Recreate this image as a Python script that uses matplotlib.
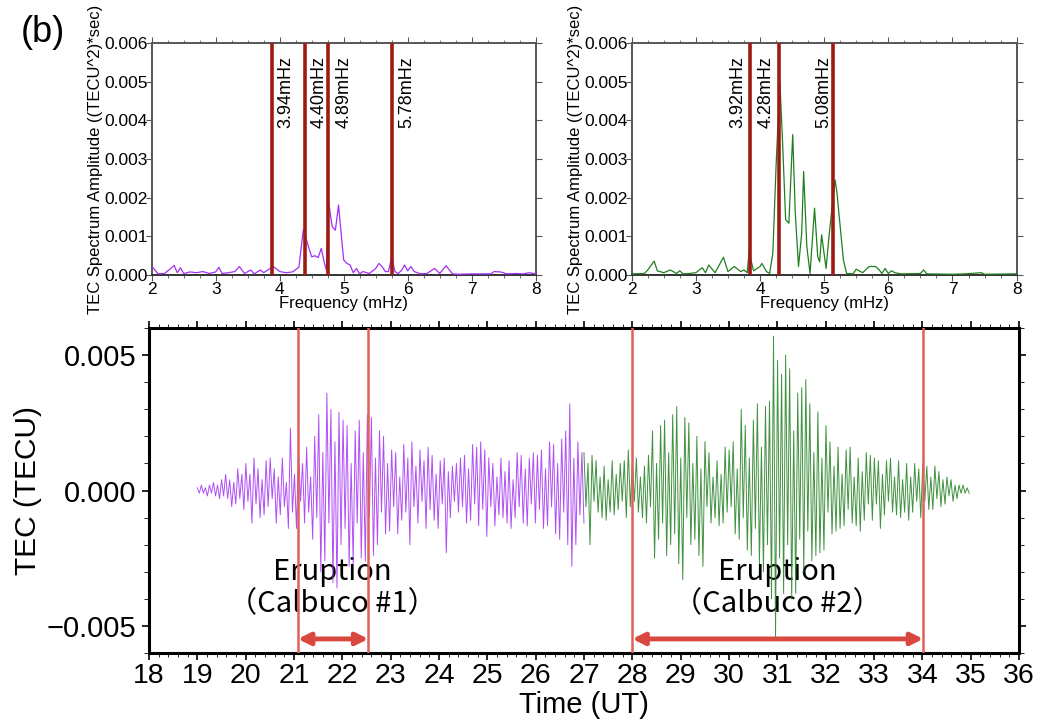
import numpy as np
import matplotlib
matplotlib.use("Agg")
from matplotlib import pyplot as plt
from matplotlib.ticker import MultipleLocator, FormatStrFormatter, FuncFormatter

plt.rcParams['font.family'] = ['Liberation Sans', 'DejaVu Sans']

# spectrum, event 1 (purple)
freq1 = [2.0, 2.1, 2.2, 2.3, 2.35, 2.4, 2.45, 2.5, 2.6, 2.7, 2.8, 2.9, 3.0, 3.05, 3.1, 3.2,
         3.3, 3.37, 3.45, 3.55, 3.6, 3.7, 3.75, 3.85, 3.9, 4.0, 4.1, 4.2, 4.3, 4.37, 4.45,
         4.5, 4.55, 4.6, 4.65, 4.7, 4.73, 4.76, 4.82, 4.87, 4.92, 4.97, 5.0, 5.05, 5.1,
         5.15, 5.2, 5.25, 5.3, 5.4, 5.5, 5.55, 5.6, 5.65, 5.7, 5.75, 5.8, 5.85, 5.9, 5.95,
         6.0, 6.05, 6.1, 6.2, 6.3, 6.42, 6.5, 6.6, 6.7, 6.8, 7.0, 7.2, 7.3, 7.35, 7.45,
         7.55, 7.7, 7.8, 7.9, 8.0]
amp1 = [0.23, 0.03, 0.04, 0.17, 0.25, 0.06, 0.19, 0.04, 0.08, 0.06, 0.09, 0.04, 0.08, 0.20,
        0.04, 0.06, 0.09, 0.22, 0.04, 0.13, 0.03, 0.13, 0.06, 0.17, 0.22, 0.09, 0.06, 0.08,
        0.20, 1.18, 0.73, 0.47, 0.50, 0.45, 0.69, 0.30, 0.13, 1.94, 1.25, 1.16, 1.81, 0.90,
        0.39, 0.30, 0.26, 0.06, 0.17, 0.03, 0.09, 0.04, 0.17, 0.30, 0.22, 0.09, 0.09, 0.47,
        0.09, 0.04, 0.11, 0.26, 0.11, 0.22, 0.09, 0.03, 0.04, 0.17, 0.04, 0.24, 0.03, 0.02,
        0.03, 0.03, 0.03, 0.09, 0.08, 0.03, 0.04, 0.03, 0.06, 0.03]

# spectrum, event 2 (green)
freq2 = [2.0, 2.2, 2.25, 2.35, 2.4, 2.5, 2.6, 2.7, 2.75, 2.8, 2.9, 3.0, 3.1, 3.15, 3.2, 3.3,
         3.43, 3.5, 3.6, 3.7, 3.75, 3.8, 3.83, 3.9, 4.0, 4.03, 4.1, 4.15, 4.2, 4.25, 4.31,
         4.35, 4.4, 4.45, 4.51, 4.55, 4.6, 4.65, 4.68, 4.73, 4.78, 4.85, 4.9, 4.93, 4.96,
         5.03, 5.08, 5.17, 5.2, 5.25, 5.3, 5.35, 5.45, 5.5, 5.6, 5.7, 5.8, 5.85, 5.9, 5.95,
         6.0, 6.05, 6.1, 6.2, 6.5, 6.55, 6.6, 7.0, 7.2, 7.45, 7.5, 8.0]
amp2 = [0.03, 0.04, 0.13, 0.36, 0.11, 0.06, 0.13, 0.04, 0.11, 0.03, 0.04, 0.06, 0.19, 0.06,
        0.26, 0.06, 0.46, 0.09, 0.22, 0.09, 0.13, 0.06, 0.58, 0.11, 0.22, 0.30, 0.09, 0.04,
        0.56, 2.80, 5.00, 3.50, 1.43, 1.34, 3.63, 1.60, 0.22, 1.08, 2.68, 0.73, 0.04, 1.73,
        0.47, 0.34, 1.04, 0.17, 1.08, 2.46, 2.12, 1.25, 0.39, 0.04, 0.03, 0.15, 0.06, 0.22,
        0.22, 0.15, 0.04, 0.17, 0.04, 0.11, 0.06, 0.03, 0.04, 0.13, 0.03, 0.02, 0.03, 0.06,
        0.02, 0.03]

lines1 = [3.88, 4.39, 4.76, 5.75]
labels1 = ["3.94mHz", "4.40mHz", "4.89mHz", "5.78mHz"]
labx1 = [4.10, 4.61, 5.00, 5.99]
lines2 = [3.84, 4.30, 5.13]
labels2 = ["3.92mHz", "4.28mHz", "5.08mHz"]
labx2 = [3.66, 4.10, 4.99]

# TEC time series, turning points in 1e-4 TECU (24 per hour)
tec1 = [1, -1, 2, -1, 1, -2, 2, -1, 3, -2, 2, -3, 4, -2, 6, -3, 4, -6, 3, -5, 8, -3, 6, -7,
        10, -4, 6, -12, 12, -5, 8, -10, 4, -9, 11, -6, 12, -3, 8, -12, 5, -9, 12, -6, 3, -14, 23, -8,
        6, -14, 15, -4, 10, -12, 16, -8, 5, -18, 20, -10, 28, -30, 14, -26, 36, -12, 30, -34, 18, -36, 29, -20,
        26, -14, 24, -28, 10, -27, 22, -12, 26, -25, 14, -26, 28, -10, 27, -24, 12, -20, 22, -8, 20, -16, 10, -15,
        15, -6, 14, -16, 5, -11, 17, -8, 12, -20, 18, -6, 9, -12, 15, -4, 11, -14, 16, -7, 13, -11, 6, -14,
        11, -5, 12, -23, 7, -10, 9, -4, 10, -8, 12, -6, 13, -12, 8, -11, 17, -5, 16, -13, 18, -7, 15, -17,
        12, -6, 10, -13, 5, -9, 12, -10, 7, -12, 11, -14, 4, -10, 14, -6, 13, -12, 8, -13, 12, -5, 14, -12,
        13, -7, 15, -14, 8, -13, 18, -6, 17, -16, 10, -18, 19, -8, 22, -20, 32, -28, 12, -20, 18, -9, 14, -12]
tec2 = [14, -6, 10, -20, 13, -4, 11, -8, 5, -10, 9, -11, 4, -8, 11, -9, 6, -7, 10, -4, 11, -10, 15, -6,
        10, -4, 12, -8, 5, -10, 9, -12, 13, -6, 22, -25, 10, -18, 24, -12, 26, -24, 14, -20, 28, -16, 31, -27,
        12, -33, 27, -10, 25, -20, 10, -18, 20, -24, 8, -28, 18, -6, 14, -12, 5, -10, 11, -13, 6, -12, 16, -8,
        15, -6, 18, -16, 8, -18, 30, -10, 24, -22, 12, -24, 26, -14, 32, -27, 16, -30, 31, -20, 33, -40, 57, -54,
        48, -25, 43, -38, 50, -20, 45, -40, 22, -38, 36, -18, 38, -30, 41, -15, 32, -26, 14, -24, 29, -23, 12, -22,
        24, -8, 18, -16, 9, -15, 16, -14, 6, -13, 15, -7, 16, -12, 5, -13, 12, -15, 7, -11, 14, -5, 13, -11,
        12, -5, 11, -14, 6, -9, 11, -4, 12, -8, 5, -9, 11, -10, 4, -8, 10, -11, 5, -8, 10, -4, 8, -10,
        10, -4, 9, -7, 5, -7, 9, -3, 7, -6, 4, -5, 5, -2, 4, -4, 2, -3, 2, -1, 2, -1, 1, -1]

eruptions = [(21.08, 22.54, 21.8, "#1"), (28.0, 34.02, 31.0, "#2")]

PURPLE = "#a330f5"
GREEN = "#1f7f1f"
DARKRED = "#9e1b14"
LIGHTRED = "#e0605a"

fig = plt.figure(figsize=(10.41, 7.23), dpi=100)


def spectrum_panel(rect, f, a, color, lines, labels, labx):
    ax = fig.add_axes(rect)
    ax.plot(f, np.array(a) * 1e-3, color=color, lw=0.9, zorder=3)
    for x in lines:
        ax.axvline(x, color=DARKRED, lw=2.6, zorder=4)
    for x, s in zip(labx, labels):
        ax.text(x, 0.00567, s, rotation=90, ha="center", va="top", fontsize=13, zorder=5)
    ax.set_xlim(2, 8)
    ax.set_ylim(0, 0.006)
    ax.xaxis.set_major_locator(MultipleLocator(1))
    ax.xaxis.set_minor_locator(MultipleLocator(0.25))
    ax.yaxis.set_major_locator(MultipleLocator(0.001))
    ax.yaxis.set_major_formatter(FormatStrFormatter("%.3f"))
    ax.tick_params(axis="both", which="both", direction="out", top=True, right=True,
                   labelsize=12.5, color="#555555")
    ax.tick_params(axis="x", which="major", length=4, pad=1)
    ax.tick_params(axis="x", which="minor", length=2)
    ax.tick_params(axis="y", which="major", length=4, pad=-1)
    for sp in ax.spines.values():
        sp.set_color("#555555")
        sp.set_linewidth(1.4)
    ax.spines["bottom"].set_color("#333333")
    ax.set_xlabel("Frequency (mHz)", fontsize=12, labelpad=-1)
    ax.set_ylabel("TEC Spectrum Amplitude ((TECU^2)*sec)", fontsize=12)
    ax.yaxis.set_label_coords(-0.126, 0.5)
    return ax


spectrum_panel([0.1457, 0.6196, 0.3689, 0.3209], freq1, amp1, PURPLE, lines1, labels1, labx1)
spectrum_panel([0.6068, 0.6196, 0.3698, 0.3209], freq2, amp2, GREEN, lines2, labels2, labx2)

ax = fig.add_axes([0.1431, 0.0968, 0.8357, 0.4495])
t1 = np.linspace(19.0, 27.0, len(tec1))
t2 = np.linspace(27.0, 34.97, len(tec2))
ax.plot(t1, np.array(tec1) * 1e-4, color=PURPLE, lw=0.7, alpha=0.85, zorder=3)
ax.plot(t2, np.array(tec2) * 1e-4, color=GREEN, lw=0.7, alpha=0.85, zorder=3)

for x0, x1, xc, tag in eruptions:
    ax.axvline(x0, color=LIGHTRED, lw=1.8, zorder=4)
    ax.axvline(x1, color=LIGHTRED, lw=1.8, zorder=4)
    ax.annotate("", xy=(x0, -0.00548), xytext=(x1, -0.00548),
                arrowprops=dict(arrowstyle="<|-|>,head_length=0.7,head_width=0.35",
                                color="#d9483f", lw=3.5, shrinkA=0, shrinkB=0), zorder=5)
    ax.text(xc, -0.0030, "Eruption", ha="center", va="center", fontsize=21,
            family=["Noto Sans CJK JP", "DejaVu Sans"], zorder=1)
    ax.text(xc, -0.0042, "（Calbuco " + tag + "）", ha="center", va="center", fontsize=21,
            family=["Noto Sans CJK JP", "DejaVu Sans"], zorder=1)

ax.set_xlim(18, 36)
ax.set_ylim(-0.006, 0.006)
ax.xaxis.set_major_locator(MultipleLocator(1))
ax.xaxis.set_minor_locator(MultipleLocator(0.2))
ax.yaxis.set_major_locator(MultipleLocator(0.005))
ax.yaxis.set_minor_locator(MultipleLocator(0.001))
ax.yaxis.set_major_formatter(FuncFormatter(lambda v, p: f"{v:.3f}".replace("-", "\u2212")))
ax.tick_params(axis="both", which="both", direction="out", top=True, right=True)
ax.tick_params(axis="x", which="major", length=5, width=1.2, labelsize=20.5, pad=2)
ax.tick_params(axis="x", which="minor", length=3)
ax.tick_params(axis="y", which="major", length=5, width=1.2, labelsize=21, pad=4)
ax.tick_params(axis="y", which="minor", length=3.5)
for sp in ax.spines.values():
    sp.set_linewidth(2.2)
ax.set_xlabel("Time (UT)", fontsize=21)
ax.xaxis.set_label_coords(0.5, -0.118)
ax.set_ylabel("TEC (TECU)", fontsize=21.5)
ax.yaxis.set_label_coords(-0.123, 0.5)

fig.text(0.041, 0.955, "(b)", fontsize=26, ha="center", va="center")

fig.savefig("out.png", dpi=100)
